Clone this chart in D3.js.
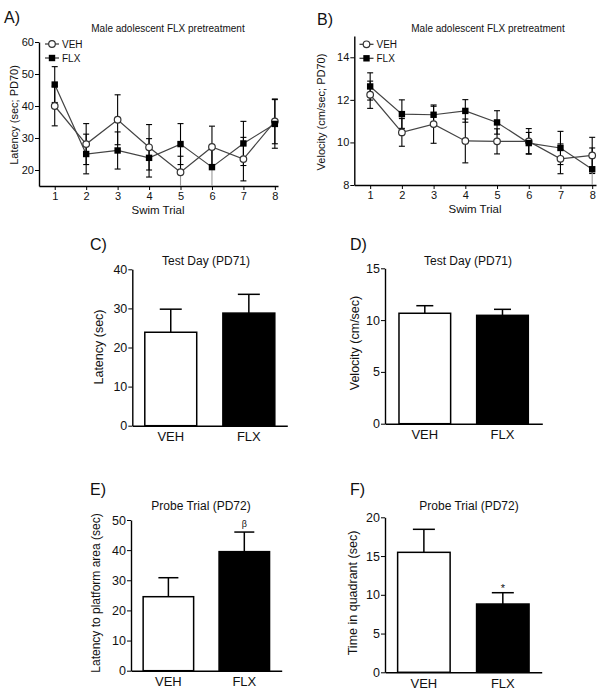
<!DOCTYPE html>
<html lang="en">
<head>
<meta charset="UTF-8" />
<title>Male adolescent FLX pretreatment</title>
<script src="https://cdnjs.cloudflare.com/ajax/libs/d3/7.8.5/d3.min.js"></script>
<style>
  body { margin: 0; background: #fff; }
  svg { display: block; font-family: "Liberation Sans", Arial, sans-serif; }
  .axis path, .axis line { stroke: #000; }
  .axis .domain { stroke-width: 1.4; }
  .axis text { fill: #111; }
</style>
</head>
<body>
<svg id="canvas"></svg>
<script>
  // swim trials, PD70
  let trials = [1, 2, 3, 4, 5, 6, 7, 8];

  let latVeh = [40, 28.1, 35.7, 27.1, 19.3, 27.2, 23.4, 35.2];
  let latVehSem = [6.2, 6.4, 7.8, 7.1, 5, 6.5, 6.8, 7];
  let latFlx = [46.7, 25, 26.1, 23.8, 28.1, 20.9, 28.3, 34.4];
  let latFlxSem = [5.6, 6.2, 5.8, 6, 6.4, 6.5, 6.9, 7.6];
  let latTicks = [20, 30, 40, 50, 60];

  let velVeh = [12.24, 10.47, 10.86, 10.07, 10.05, 10.05, 9.23, 9.39];
  let velVehSem = [0.64, 0.65, 0.9, 1.03, 0.59, 0.6, 0.7, 0.85];
  let velFlx = [12.63, 11.33, 11.3, 11.48, 10.94, 9.97, 9.74, 8.74];
  let velFlxSem = [0.64, 0.67, 0.4, 0.53, 0.55, 0.5, 0.78, 1.0];
  let velTicks = [8, 10, 12, 14];

  // test day (PD71) and probe trial (PD72)
  let groups = ["VEH", "FLX"];
  let testLat = [23.9, 28.8];
  let testLatSem = [5.9, 4.8];
  let testLatTicks = [0, 10, 20, 30, 40];

  let testVel = [10.66, 10.46];
  let testVelSem = [0.73, 0.58];
  let testVelTicks = [0, 5, 10, 15];

  let probeLat = [24.55, 39.5];
  let probeLatSem = [6.3, 6.5];
  let probeLatTicks = [0, 10, 20, 30, 40, 50];
  let probeLatSig = ["", "β"];

  let probeTime = [15.48, 8.81];
  let probeTimeSem = [2.97, 1.46];
  let probeTimeTicks = [0, 5, 10, 15, 20];
  let probeTimeSig = ["", "*"];

  let width = 616;
  let height = 694;
  let font = "Liberation Sans, Arial, sans-serif";

  let svg = d3.select("svg").attr("width", width).attr("height", height);

  let text = (x, y, str, size, anchor, rotate) => {
    let t = svg.append("text")
      .attr("x", x).attr("y", y)
      .attr("font-size", size)
      .attr("fill", "#111")
      .attr("text-anchor", anchor || "start")
      .text(str);
    if (rotate) t.attr("transform", "rotate(-90," + x + "," + y + ")");
    return t;
  };

  let marker = (g, cx, cy, square) => {
    if (square) {
      g.append("rect")
        .attr("x", cx - 3.2).attr("y", cy - 3.2)
        .attr("width", 6.4).attr("height", 6.4)
        .attr("fill", "#000");
    } else {
      g.append("circle")
        .attr("cx", cx).attr("cy", cy).attr("r", 3.3)
        .attr("fill", "#fff").attr("stroke", "#333").attr("stroke-width", 1.2);
    }
  };

  let linePanel = (p) => {
    let g = svg.append("g");
    let x = d3.scaleLinear().domain(p.xDomain).range(p.xRange);
    let y = d3.scaleLinear().domain(p.yDomain).range(p.yRange);

    g.append("g")
      .attr("class", "axis")
      .attr("transform", "translate(0," + p.yRange[0] + ")")
      .call(d3.axisBottom(x).tickValues(trials).tickFormat(d3.format("d"))
        .tickSize(4).tickSizeOuter(0).tickPadding(2))
      .attr("font-family", font).attr("font-size", 11);

    g.append("g")
      .attr("class", "axis")
      .attr("transform", "translate(" + p.xRange[0] + ",0)")
      .call(d3.axisLeft(y).tickValues(p.ticks).tickFormat(d3.format("d"))
        .tickSize(4).tickSizeOuter(0).tickPadding(1))
      .attr("font-family", font).attr("font-size", 11);

    let series = [
      { mean: p.veh, sem: p.vehSem, square: false },
      { mean: p.flx, sem: p.flxSem, square: true },
    ];

    // error bars
    series.forEach((s) => {
      s.mean.forEach((m, i) => {
        let cx = x(trials[i]);
        let hi = m + s.sem[i];
        let lo = m - s.sem[i];
        let clipped = lo < p.yDomain[0];
        let lo2 = Math.max(lo, p.yDomain[0]);
        g.append("line").attr("x1", cx).attr("x2", cx)
          .attr("y1", y(m)).attr("y2", y(hi)).attr("stroke", "#000").attr("stroke-width", 1.1);
        g.append("line").attr("x1", cx - 3).attr("x2", cx + 3)
          .attr("y1", y(hi)).attr("y2", y(hi)).attr("stroke", "#000").attr("stroke-width", 1.1);
        g.append("line").attr("x1", cx).attr("x2", cx)
          .attr("y1", y(m)).attr("y2", y(lo2))
          .attr("stroke", clipped ? "#999" : "#000").attr("stroke-width", 1.1);
        if (!clipped) {
          g.append("line").attr("x1", cx - 3).attr("x2", cx + 3)
            .attr("y1", y(lo)).attr("y2", y(lo)).attr("stroke", "#000").attr("stroke-width", 1.1);
        }
      });
    });

    // connecting lines
    let line = d3.line().x((d, i) => x(trials[i])).y((d) => y(d));
    series.forEach((s) => {
      g.append("path").attr("d", line(s.mean))
        .attr("fill", "none").attr("stroke", "#444").attr("stroke-width", 1.2);
    });

    series.forEach((s) => {
      s.mean.forEach((m, i) => marker(g, x(trials[i]), y(m), s.square));
    });

    // legend
    series.forEach((s, i) => {
      let ly = p.legend[1] + i * 14;
      g.append("line").attr("x1", p.legend[0] - 7).attr("x2", p.legend[0] + 7)
        .attr("y1", ly).attr("y2", ly).attr("stroke", "#333").attr("stroke-width", 1.2);
      marker(g, p.legend[0], ly, s.square);
      g.append("text").attr("x", p.legend[0] + 10).attr("y", ly + 3.5)
        .attr("font-size", 10).attr("fill", "#111")
        .text(groups[i]);
    });
  };

  let barPanel = (p) => {
    let g = svg.append("g");
    let x = d3.scaleBand().domain(groups).range(p.xRange)
      .paddingInner(0.335).paddingOuter(p.outer || 0.16);
    let y = d3.scaleLinear().domain(p.yDomain).range(p.yRange);

    g.selectAll("rect")
      .data(p.values)
      .enter()
      .append("rect")
      .attr("x", (d, i) => x(groups[i]))
      .attr("y", (d) => y(d))
      .attr("width", x.bandwidth())
      .attr("height", (d) => y(0) - y(d))
      .attr("fill", (d, i) => (i === 0 ? "#fff" : "#000"))
      .attr("stroke", "#000")
      .attr("stroke-width", 1.5);

    p.values.forEach((d, i) => {
      let cx = x(groups[i]) + x.bandwidth() / 2;
      let top = y(d + p.sem[i]);
      g.append("line").attr("x1", cx).attr("x2", cx)
        .attr("y1", y(d)).attr("y2", top).attr("stroke", "#000").attr("stroke-width", 1.5);
      g.append("line").attr("x1", cx - p.cap / 2).attr("x2", cx + p.cap / 2)
        .attr("y1", top).attr("y2", top).attr("stroke", "#000").attr("stroke-width", 1.5);
      if (p.sig && p.sig[i]) {
        g.append("text").attr("x", cx).attr("y", top - p.sigOffset)
          .attr("text-anchor", "middle").attr("font-size", p.sigSize).attr("fill", "#111")
          .text(p.sig[i]);
      }
    });

    g.append("g")
      .attr("class", "axis")
      .attr("transform", "translate(0," + p.yRange[0] + ")")
      .call(d3.axisBottom(x).tickSize(0).tickPadding(6))
      .attr("font-family", font).attr("font-size", 13);

    g.append("g")
      .attr("class", "axis")
      .attr("transform", "translate(" + p.xRange[0] + ",0)")
      .call(d3.axisLeft(y).tickValues(p.ticks).tickFormat(d3.format("d"))
        .tickSize(4).tickSizeOuter(0).tickPadding(1))
      .attr("font-family", font).attr("font-size", 12.5);
  };

  // A) latency over swim trials
  linePanel({
    xDomain: [0.5, 8.1], xRange: [39, 278],
    yDomain: [15, 60], yRange: [186, 42], ticks: latTicks,
    veh: latVeh, vehSem: latVehSem, flx: latFlx, flxSem: latFlxSem,
    legend: [52, 44],
  });
  text(4, 23, "A)", 16);
  text(168, 32, "Male adolescent FLX pretreatment", 10, "middle");
  text(18, 115, "Latency (sec; PD70)", 11, "middle", true);
  text(158, 214, "Swim Trial", 11.5, "middle");

  // B) velocity over swim trials
  linePanel({
    xDomain: [0.5, 8.12], xRange: [354.3, 596],
    yDomain: [8, 15], yRange: [185, 36], ticks: velTicks,
    veh: velVeh, vehSem: velVehSem, flx: velFlx, flxSem: velFlxSem,
    legend: [366.5, 44.3],
  });
  text(317, 25, "B)", 16);
  text(488, 32, "Male adolescent FLX pretreatment", 10, "middle");
  text(325, 112, "Velocity (cm/sec; PD70)", 11, "middle", true);
  text(475, 213, "Swim Trial", 11.5, "middle");

  // C) test day latency
  barPanel({
    xRange: [132.3, 287.3], yDomain: [0, 40], yRange: [425.7, 269.3],
    ticks: testLatTicks, values: testLat, sem: testLatSem, cap: 22,
  });
  text(90, 250, "C)", 16);
  text(206, 265, "Test Day (PD71)", 12, "middle");
  text(103, 347, "Latency (sec)", 12.5, "middle", true);

  // D) test day velocity
  barPanel({
    xRange: [385, 542.3], yDomain: [0, 15], yRange: [423.7, 268.3],
    ticks: testVelTicks, values: testVel, sem: testVelSem, cap: 17, outer: 0.18,
  });
  text(350, 250, "D)", 16);
  text(468, 265, "Test Day (PD71)", 12, "middle");
  text(359, 343, "Velocity (cm/sec)", 12.5, "middle", true);

  // E) probe trial latency
  barPanel({
    xRange: [131, 281.7], yDomain: [0, 50], yRange: [670.7, 520],
    ticks: probeLatTicks, values: probeLat, sem: probeLatSem, cap: 20,
    sig: probeLatSig, sigOffset: 5, sigSize: 9,
  });
  text(90, 495, "E)", 16);
  text(201, 510, "Probe Trial (PD72)", 12, "middle");
  text(100, 593, "Latency to platform area (sec)", 12, "middle", true);

  // F) probe trial time in quadrant
  barPanel({
    xRange: [385, 541.7], yDomain: [0, 20], yRange: [672.3, 517.3],
    ticks: probeTimeTicks, values: probeTime, sem: probeTimeSem, cap: 22,
    sig: probeTimeSig, sigOffset: 1, sigSize: 11,
  });
  text(350, 495, "F)", 16);
  text(469, 510, "Probe Trial (PD72)", 12, "middle");
  text(357, 593, "Time in quadrant (sec)", 12.5, "middle", true);
</script>
</body>
</html>
